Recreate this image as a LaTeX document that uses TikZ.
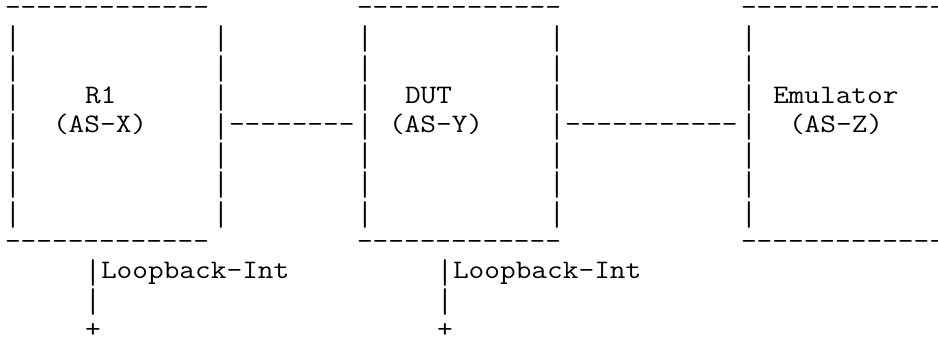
\documentclass[tikz,border=0pt]{standalone}
\usepackage{fontspec}
\usepackage{graphicx}
% typewriter glyphs widened to a 16px pitch (1px = 0.75pt)
\newcommand\gridtext[4]{%
  \node[ascii] (#1) at ({5+16*(#2)},{15.9+29.2*(#3)}) {\scalebox{1.1428}[1]{#4}};}
% a taller vertical bar, so that stacked bars almost meet
\newcommand\gridbar[3]{%
  \node[ascii, bar] (#1) at ({5+16*(#2)},{15.9+29.2*(#3)})
    {\raisebox{-3.6pt}{\scalebox{1.1428}[1.29]{|}}};}
\tikzset{
  ascii/.style={font=\ttfamily\fontsize{20pt}{22pt}\selectfont,
    inner sep=0pt, outer sep=0pt, anchor=base west, text=black},
  rule/.style={text height=0.45em},
  bar/.style={text height=14.2pt, text depth=5.6pt}
}
\begin{document}
\begin{tikzpicture}[x=0.75pt,y=-0.75pt]
\useasboundingbox (0,0) rectangle (938,342);
% box tops and bottoms
\begin{scope}[every node/.append style={rule}]
\gridtext{r1top}{0}{0}{-------------}
\gridtext{duttop}{22}{0}{-------------}
\gridtext{emutop}{46}{0}{-------------}
\gridtext{r1bot}{0}{8}{-------------}
\gridtext{dutbot}{22}{8}{-------------}
\gridtext{emubot}{46}{8}{-------------}
\end{scope}
% box sides
\foreach \c in {0,13,22,34,46}
  \foreach \r in {1,...,7}
    \gridbar{side-\c-\r}{\c}{\r};
% box labels
\gridtext{r1name}{5}{3}{R1}
\gridtext{r1as}{3}{4}{(AS-X)}
\gridtext{dutname}{25}{3}{DUT}
\gridtext{dutas}{24}{4}{(AS-Y)}
\gridtext{emuname}{48}{3}{Emulator}
\gridtext{emuas}{49}{4}{(AS-Z)}
% links between boxes
\gridtext{link1}{14}{4}{--------}
\gridtext{link2}{35}{4}{-----------}
% loopback interfaces
\gridbar{lb1bar}{5}{9}
\gridtext{lb1}{6}{9}{Loopback-Int}
\gridbar{lb1a}{5}{10}
\gridtext{lb1end}{5}{11}{+}
\gridbar{lb2bar}{27}{9}
\gridtext{lb2}{28}{9}{Loopback-Int}
\gridbar{lb2a}{27}{10}
\gridtext{lb2end}{27}{11}{+}
\end{tikzpicture}
\end{document}
